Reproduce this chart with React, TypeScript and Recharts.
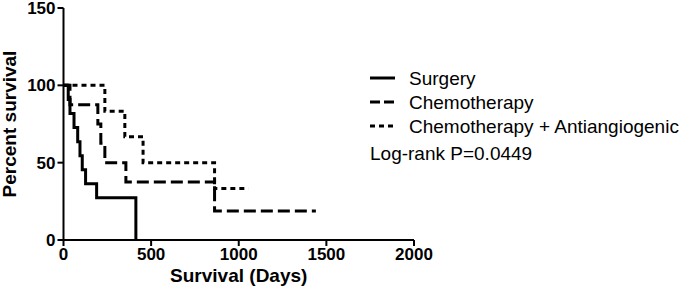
import { LineChart, Line, XAxis, YAxis, Label } from "recharts";

// Kaplan-Meier steps (day of each drop, percent survival after it)
const xTicks = [0, 500, 1000, 1500, 2000];
const yTicks = [0, 50, 100, 150];

const surgeryDays = [0, 27, 37, 60, 81, 94, 107, 126, 189, 413];
const surgerySurvival = [100, 90.9, 81.8, 72.7, 63.6, 54.5, 45.5, 36.4, 27.3, 0];

const chemoDays = [0, 37, 196, 213, 236, 356, 862, 1440];
const chemoSurvival = [100, 87.5, 75, 62.5, 50, 37.5, 18.75, 18.75];

const comboDays = [0, 236, 350, 454, 862, 1055];
const comboSurvival = [100, 83.3, 66.7, 50, 33.3, 33.3];

const pValueText = "Log-rank P=0.0449";

const toPoints = (days: number[], values: number[]) =>
  days.map((d, i) => ({ day: d, survival: values[i] }));

const series = [
  { name: "Surgery", data: toPoints(surgeryDays, surgerySurvival), dash: undefined },
  { name: "Chemotherapy", data: toPoints(chemoDays, chemoSurvival), dash: "12 5" },
  {
    name: "Chemotherapy + Antiangiogenic",
    data: toPoints(comboDays, comboSurvival),
    dash: "5 4",
  },
];

const FONT = "'Liberation Sans', Arial, sans-serif";
const tickStyle = { fill: "#000", fontSize: 17, fontWeight: "bold", fontFamily: FONT };
const axisStroke = { stroke: "#000", strokeWidth: 2 };

function SurvivalLegend() {
  const rowBaselines = [85, 109, 133];
  return (
    <svg
      width={683}
      height={295}
      style={{ position: "absolute", left: 0, top: 0, pointerEvents: "none" }}
    >
      {series.map((s, i) => (
        <g key={s.name}>
          <line
            x1={370}
            x2={395}
            y1={rowBaselines[i] - 7}
            y2={rowBaselines[i] - 7}
            stroke="#000"
            strokeWidth={3}
            strokeDasharray={s.dash ? (i === 1 ? "10 4" : "5 4") : undefined}
          />
          <text x={409} y={rowBaselines[i]} fontSize={19} fontFamily={FONT} fill="#000">
            {s.name}
          </text>
        </g>
      ))}
      <text x={370} y={160} fontSize={19} fontFamily={FONT} fill="#000">
        {pValueText}
      </text>
    </svg>
  );
}

export default function App() {
  return (
    <div style={{ position: "absolute", left: 0, top: 0, width: 683, height: 295 }}>
      <LineChart
        width={683}
        height={295}
        margin={{ top: 8, right: 269, left: 0, bottom: 0 }}
        style={{ fontFamily: FONT }}
      >
        <XAxis
          type="number"
          dataKey="day"
          domain={[0, 2000]}
          ticks={xTicks}
          height={55}
          axisLine={axisStroke}
          tickLine={axisStroke}
          tickSize={6}
          tickMargin={2}
          tick={tickStyle}
          interval={0}
        >
          <Label
            value="Survival (Days)"
            position="insideBottom"
            offset={13}
            style={{ fontSize: 19, fontWeight: "bold", fill: "#000", fontFamily: FONT }}
          />
        </XAxis>
        <YAxis
          type="number"
          domain={[0, 150]}
          ticks={yTicks}
          width={63.5}
          axisLine={axisStroke}
          tickLine={axisStroke}
          tickSize={6}
          tickMargin={2}
          tick={tickStyle}
          interval={0}
        >
          <Label
            value="Percent survival"
            angle={-90}
            position="insideLeft"
            offset={9}
            style={{
              fontSize: 19,
              fontWeight: "bold",
              fill: "#000",
              fontFamily: FONT,
              textAnchor: "middle",
            }}
          />
        </YAxis>
        {series.map((s) => (
          <Line
            key={s.name}
            data={s.data}
            dataKey="survival"
            name={s.name}
            type="stepAfter"
            stroke="#000"
            strokeWidth={3}
            strokeDasharray={s.dash}
            dot={false}
            activeDot={false}
            isAnimationActive={false}
          />
        ))}
      </LineChart>
      <SurvivalLegend />
    </div>
  );
}
